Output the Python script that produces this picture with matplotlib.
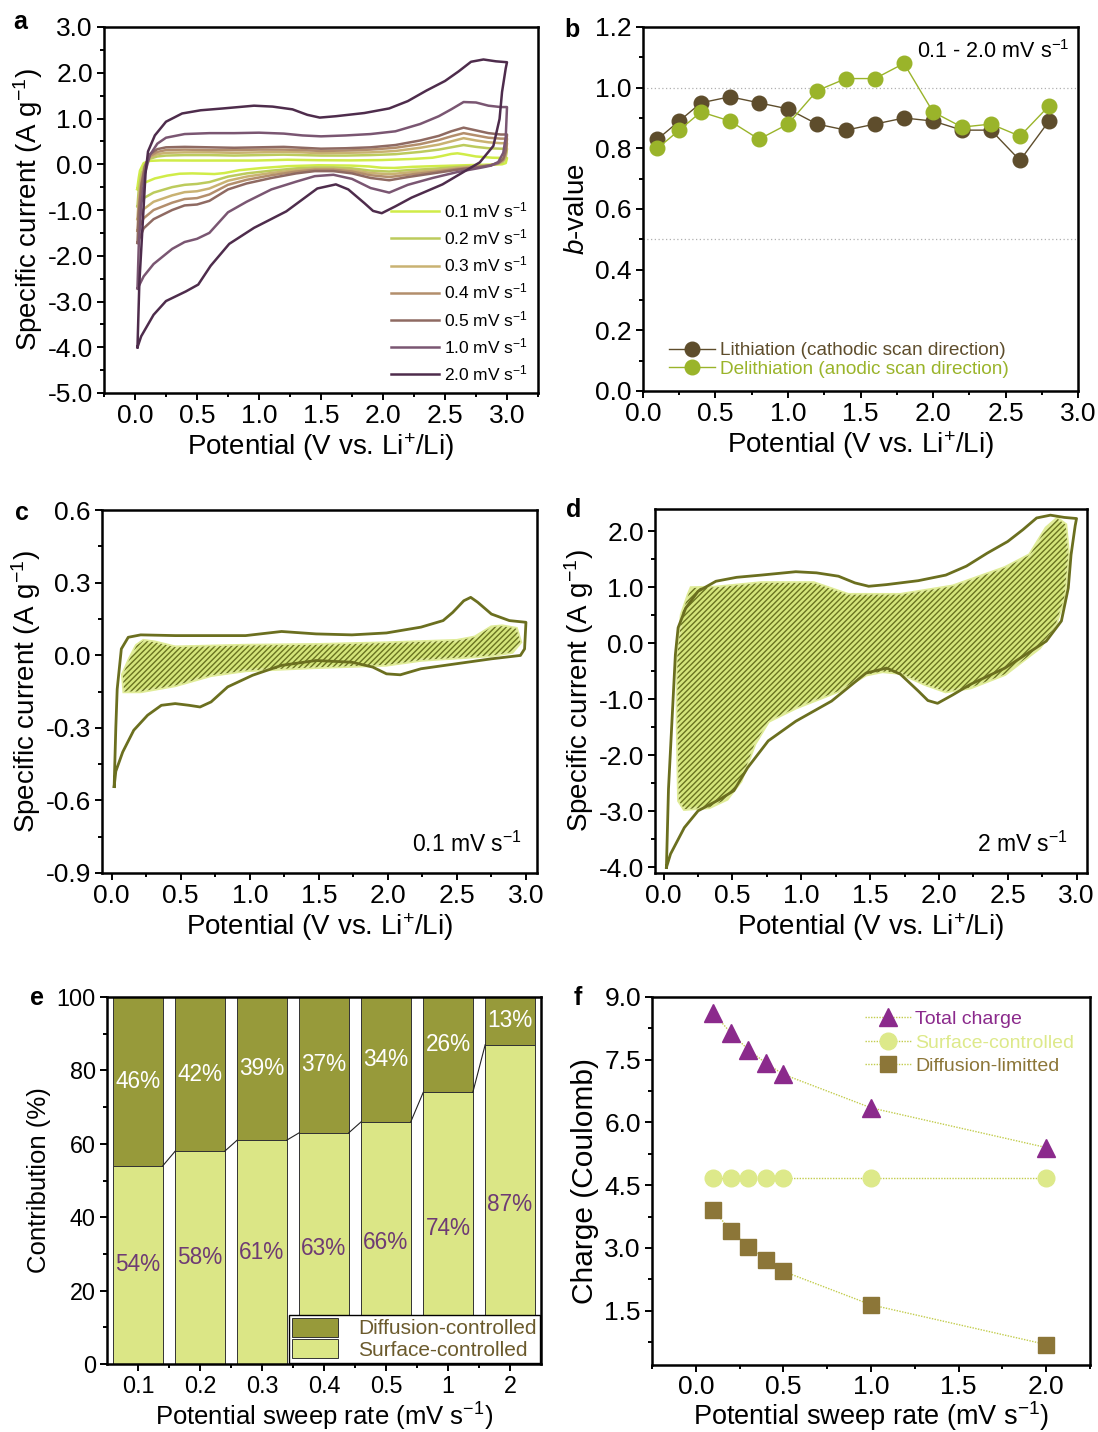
import matplotlib
matplotlib.use('Agg')
import matplotlib.pyplot as plt
from matplotlib.ticker import MultipleLocator, FixedLocator, FormatStrFormatter
from matplotlib.patches import Patch
import numpy as np

plt.rcParams['font.family'] = ['Liberation Sans', 'DejaVu Sans']
plt.rcParams['mathtext.fontset'] = 'custom'
plt.rcParams['mathtext.rm'] = 'Liberation Sans'
plt.rcParams['mathtext.it'] = 'Liberation Sans:italic'
plt.rcParams['mathtext.bf'] = 'Liberation Sans:bold'
plt.rcParams['hatch.linewidth'] = 1.0
plt.rcParams['axes.unicode_minus'] = False

# ---------------- data ----------------
# Panel a / c / d : cyclic voltammograms (potential V, current A/g)
RATES_A = ['0.1', '0.2', '0.3', '0.4', '0.5', '1.0', '2.0']
COLORS_A = ['#d0ec48', '#bccb5c', '#c9b272', '#b38e6c', '#8f6a62', '#7a5672', '#4e2c4c']

# 0.1 mV/s curve (also panel c)
C_UP_X = [0.018, 0.03, 0.04, 0.07, 0.12, 0.21, 0.46, 0.97, 1.23, 1.48, 1.74, 1.99, 2.24, 2.40, 2.47,
          2.55, 2.60, 2.65, 2.75, 2.88, 3.0]
C_UP_Y = [-0.543, -0.30, -0.14, 0.026, 0.074, 0.084, 0.081, 0.081, 0.098, 0.088, 0.084, 0.092, 0.116,
          0.143, 0.177, 0.225, 0.239, 0.219, 0.170, 0.143, 0.136]
C_LO_X = [3.0, 2.99, 2.96, 2.75, 2.50, 2.24, 2.09, 1.99, 1.89, 1.74, 1.48, 1.23, 1.02, 0.84, 0.72, 0.64,
          0.56, 0.46, 0.36, 0.26, 0.16, 0.08, 0.03, 0.018]
C_LO_Y = [0.136, 0.026, -0.001, -0.015, -0.035, -0.056, -0.081, -0.077, -0.049, -0.029, -0.022, -0.042,
          -0.083, -0.131, -0.193, -0.214, -0.207, -0.200, -0.207, -0.248, -0.310, -0.400, -0.480, -0.543]
C_FILL_X = [0.23, 0.31, 0.46, 0.97, 1.48, 1.99, 2.50, 2.63, 2.75, 2.83, 2.93, 2.96, 2.90, 2.75, 2.24,
            1.99, 1.48, 0.97, 0.72, 0.46, 0.21, 0.09, 0.08, 0.13, 0.18]
C_FILL_Y = [0.060, 0.054, 0.033, 0.040, 0.043, 0.050, 0.060, 0.074, 0.116, 0.120, 0.110, 0.054, 0.013,
            -0.001, -0.020, -0.040, -0.050, -0.063, -0.083, -0.125, -0.150, -0.150, -0.080, -0.015, 0.040]

# 2.0 mV/s curve (also panel d)
D_UP_X = [0.02, 0.035, 0.06, 0.085, 0.105, 0.16, 0.25, 0.38, 0.53, 0.71, 0.96, 1.11, 1.27, 1.39, 1.49,
          1.62, 1.85, 2.05, 2.20, 2.35, 2.50, 2.61, 2.71, 2.81, 2.91, 3.0]
D_UP_Y = [-4.0, -2.6, -1.4, -0.2, 0.28, 0.63, 0.93, 1.11, 1.18, 1.22, 1.28, 1.26, 1.20, 1.08, 1.02,
          1.05, 1.12, 1.22, 1.38, 1.61, 1.82, 2.03, 2.24, 2.29, 2.25, 2.23]
D_LO_X = [3.0, 2.99, 2.96, 2.94, 2.89, 2.78, 2.63, 2.48, 2.23, 2.10, 1.99, 1.92, 1.85, 1.72, 1.62, 1.47,
          1.34, 1.22, 0.96, 0.76, 0.61, 0.51, 0.41, 0.25, 0.15, 0.05, 0.02]
D_LO_Y = [2.23, 2.10, 1.58, 0.99, 0.40, 0.04, -0.20, -0.44, -0.73, -0.92, -1.07, -1.02, -0.85, -0.55,
          -0.44, -0.53, -0.79, -1.03, -1.39, -1.74, -2.22, -2.63, -2.78, -2.99, -3.29, -3.76, -4.0]
D_FILL_X = [0.20, 0.38, 0.71, 1.09, 1.34, 1.72, 2.10, 2.48, 2.66, 2.78, 2.86, 2.92, 2.94, 2.91, 2.84,
            2.73, 2.48, 2.23, 2.05, 1.90, 1.72, 1.59, 1.47, 1.27, 0.96, 0.76, 0.66, 0.56, 0.46, 0.33,
            0.15, 0.11, 0.10, 0.10, 0.13, 0.18]
D_FILL_Y = [0.99, 1.00, 1.08, 1.08, 0.87, 0.87, 1.02, 1.35, 1.58, 2.06, 2.23, 2.12, 1.58, 0.81, 0.28,
            -0.08, -0.55, -0.79, -0.86, -0.73, -0.53, -0.50, -0.56, -0.85, -1.15, -1.39, -1.80, -2.46,
            -2.78, -2.93, -2.96, -2.81, -1.39, -0.20, 0.51, 0.87]

# intermediate rates (0.2, 0.3, 0.4, 0.5, 1.0 mV/s) on shared potential grids
UP_X = [0.02, 0.03, 0.05, 0.08, 0.12, 0.18, 0.25, 0.4, 0.6, 0.8, 1.0, 1.2, 1.35, 1.5, 1.7, 1.9, 2.1,
        2.3, 2.45, 2.55, 2.65, 2.75, 2.85, 2.95, 3.0]
LO_X = [3.0, 2.99, 2.97, 2.93, 2.87, 2.8, 2.6, 2.4, 2.2, 2.05, 1.9, 1.75, 1.6, 1.45, 1.3, 1.1, 0.9,
        0.75, 0.6, 0.5, 0.4, 0.3, 0.15, 0.07, 0.02]
UP_02 = [-0.92, -0.55, -0.22, 0.0, 0.12, 0.17, 0.19, 0.2, 0.2, 0.19, 0.2, 0.21, 0.2, 0.19, 0.19, 0.2,
         0.22, 0.27, 0.32, 0.37, 0.42, 0.38, 0.35, 0.34, 0.34]
LO_02 = [0.34, 0.15, 0.06, 0.01, -0.02, -0.03, -0.06, -0.1, -0.13, -0.16, -0.14, -0.09, -0.07, -0.07,
         -0.09, -0.14, -0.2, -0.27, -0.39, -0.43, -0.45, -0.5, -0.62, -0.74, -0.92]
UP_03 = [-1.2, -0.75, -0.33, -0.03, 0.15, 0.22, 0.25, 0.26, 0.26, 0.25, 0.26, 0.27, 0.26, 0.24, 0.25,
         0.26, 0.29, 0.36, 0.43, 0.5, 0.57, 0.52, 0.48, 0.46, 0.46]
LO_03 = [0.46, 0.2, 0.08, 0.02, -0.02, -0.04, -0.08, -0.14, -0.18, -0.22, -0.19, -0.13, -0.1, -0.1,
         -0.13, -0.19, -0.27, -0.36, -0.53, -0.59, -0.61, -0.68, -0.82, -0.98, -1.2]
UP_04 = [-1.45, -0.95, -0.42, -0.05, 0.18, 0.27, 0.31, 0.32, 0.31, 0.31, 0.32, 0.32, 0.31, 0.29, 0.3,
         0.32, 0.36, 0.44, 0.53, 0.61, 0.68, 0.63, 0.58, 0.56, 0.56]
LO_04 = [0.56, 0.25, 0.1, 0.02, -0.02, -0.05, -0.1, -0.17, -0.23, -0.28, -0.24, -0.16, -0.12, -0.12,
         -0.16, -0.24, -0.34, -0.45, -0.66, -0.74, -0.76, -0.84, -1.0, -1.18, -1.45]
UP_05 = [-1.72, -1.1, -0.5, -0.05, 0.22, 0.33, 0.37, 0.38, 0.37, 0.36, 0.37, 0.38, 0.36, 0.34, 0.35,
         0.37, 0.42, 0.52, 0.62, 0.72, 0.8, 0.74, 0.68, 0.65, 0.65]
LO_05 = [0.65, 0.3, 0.12, 0.03, -0.02, -0.05, -0.12, -0.2, -0.28, -0.35, -0.3, -0.2, -0.15, -0.15,
         -0.2, -0.3, -0.42, -0.55, -0.8, -0.88, -0.9, -1.0, -1.2, -1.4, -1.72]
UP_10 = [-2.7, -1.8, -0.9, -0.2, 0.2, 0.45, 0.58, 0.66, 0.68, 0.68, 0.69, 0.67, 0.63, 0.61, 0.63, 0.66,
         0.72, 0.88, 1.05, 1.2, 1.36, 1.35, 1.28, 1.25, 1.25]
LO_10 = [1.25, 0.6, 0.25, 0.05, -0.03, -0.07, -0.17, -0.3, -0.45, -0.62, -0.52, -0.32, -0.23, -0.26,
         -0.38, -0.55, -0.82, -1.05, -1.5, -1.63, -1.7, -1.85, -2.18, -2.45, -2.72]

# Panel b : b-values
B_X = [0.1, 0.25, 0.4, 0.6, 0.8, 1.0, 1.2, 1.4, 1.6, 1.8, 2.0, 2.2, 2.4, 2.6, 2.8]
B_LITH = [0.83, 0.89, 0.95, 0.97, 0.95, 0.93, 0.88, 0.86, 0.88, 0.90, 0.89, 0.86, 0.86, 0.76, 0.89]
B_DELITH = [0.80, 0.86, 0.92, 0.89, 0.83, 0.88, 0.99, 1.03, 1.03, 1.08, 0.92, 0.87, 0.88, 0.84, 0.94]

# Panel e : contributions (%)
E_CATS = ['0.1', '0.2', '0.3', '0.4', '0.5', '1', '2']
E_SURF = [54, 58, 61, 63, 66, 74, 87]
E_DIFF = [46, 42, 39, 37, 34, 26, 13]

# Panel f : charge (C)
F_X = [0.1, 0.2, 0.3, 0.4, 0.5, 1.0, 2.0]
F_TOTAL = [8.62, 8.14, 7.74, 7.42, 7.15, 6.35, 5.40]
F_SURF = [4.68, 4.68, 4.68, 4.68, 4.68, 4.68, 4.68]
F_DIFF = [3.91, 3.41, 3.03, 2.71, 2.44, 1.64, 0.69]

# ---------------- figure ----------------
W, H = 1098, 1432
fig = plt.figure(figsize=(W / 100, H / 100), dpi=100)


def ax_px(l, t, r, b):
    return fig.add_axes([l / W, 1 - b / H, (r - l) / W, (b - t) / H])


def style(ax, size=19):
    for s in ax.spines.values():
        s.set_linewidth(1.8)
    ax.tick_params(which='both', direction='out', top=False, right=False, width=1.4,
                   labelsize=size, pad=3)
    ax.tick_params(which='major', length=5)
    ax.tick_params(which='minor', length=3)


def fmt1(ax):
    ax.xaxis.set_major_formatter(FormatStrFormatter('%.1f'))
    ax.yaxis.set_major_formatter(FormatStrFormatter('%.1f'))


LBL = 20
XLAB = 'Potential (V vs. Li$^{+}$/Li)'
YLAB = 'Specific current (A g$^{-1}$)'

# ---- a ----
axa = ax_px(104, 27, 538, 393)
curves = [
    (np.r_[C_UP_X, C_LO_X], np.r_[C_UP_Y, C_LO_Y]),
    (np.r_[UP_X, LO_X], np.r_[UP_02, LO_02]),
    (np.r_[UP_X, LO_X], np.r_[UP_03, LO_03]),
    (np.r_[UP_X, LO_X], np.r_[UP_04, LO_04]),
    (np.r_[UP_X, LO_X], np.r_[UP_05, LO_05]),
    (np.r_[UP_X, LO_X], np.r_[UP_10, LO_10]),
    (np.r_[D_UP_X, D_LO_X], np.r_[D_UP_Y, D_LO_Y]),
]
for (x, y), col, r in zip(curves, COLORS_A, RATES_A):
    axa.plot(x, y, color=col, lw=1.8, label=f'{r} mV s$^{{-1}}$', solid_joinstyle='round')
axa.set_xlim(-0.25, 3.25)
axa.set_ylim(-5.0, 3.0)
axa.xaxis.set_major_locator(FixedLocator([0, 0.5, 1, 1.5, 2, 2.5, 3]))
axa.xaxis.set_minor_locator(FixedLocator(np.arange(-0.25, 3.3, 0.25)))
axa.yaxis.set_major_locator(MultipleLocator(1.0))
axa.yaxis.set_minor_locator(MultipleLocator(0.5))
fmt1(axa)
style(axa)
axa.set_xlabel(XLAB, fontsize=LBL, labelpad=2)
axa.set_ylabel(YLAB, fontsize=LBL, labelpad=2)
axa.legend(loc='lower right', frameon=False, fontsize=12.5, handlelength=2.8, handletextpad=0.3,
           labelspacing=0.42, borderaxespad=0.15)

# ---- b ----
axb = ax_px(643, 27, 1078, 391)
LITH_COL = '#5e4d2c'
DELITH_COL = '#9ab42a'
axb.axhline(1.0, color='#b0b0b0', ls=(0, (1, 2)), lw=0.9, zorder=0)
axb.axhline(0.5, color='#b0b0b0', ls=(0, (1, 2)), lw=0.9, zorder=0)
axb.plot(B_X, B_LITH, '-o', color=LITH_COL, ms=10.5, lw=1.0,
         label='Lithiation (cathodic scan direction)')
axb.plot(B_X, B_DELITH, '-o', color=DELITH_COL, ms=10.5, lw=1.0,
         label='Delithiation (anodic scan direction)')
axb.set_xlim(0, 3.0)
axb.set_ylim(0, 1.2)
axb.xaxis.set_major_locator(MultipleLocator(0.5))
axb.xaxis.set_minor_locator(MultipleLocator(0.25))
axb.yaxis.set_major_locator(MultipleLocator(0.2))
axb.yaxis.set_minor_locator(MultipleLocator(0.1))
fmt1(axb)
style(axb)
axb.set_xlabel(XLAB, fontsize=LBL, labelpad=2)
axb.set_ylabel('$\\it{b}$-value', fontsize=LBL, labelpad=4)
axb.legend(loc='lower left', frameon=False, fontsize=13.7, handlelength=2.4, handletextpad=0.25,
           labelspacing=0.05, borderaxespad=0.3, labelcolor='linecolor', bbox_to_anchor=(0.03, 0.0))
axb.text(0.98, 0.965, '0.1 - 2.0 mV s$^{-1}$', transform=axb.transAxes, ha='right', va='top',
         fontsize=15.5)

# ---- c / d ----
CV_COL = '#6b6f1f'
FILL_COL = '#d4e57a'
HALO_COL = '#e0ec98'
HATCH_COL = '#6a7420'


def cv_panel(ax, ux, uy, lx, ly, fx, fy):
    ax.fill(fx, fy, facecolor=FILL_COL, edgecolor=HALO_COL, lw=2.5, zorder=1)
    ax.fill(fx, fy, facecolor='none', edgecolor=HATCH_COL, hatch='//////', lw=0, zorder=2)
    ax.plot(np.r_[ux, lx], np.r_[uy, ly], color=CV_COL, lw=2.0, zorder=3, solid_joinstyle='round')


axc = ax_px(102, 510, 537, 873)
cv_panel(axc, C_UP_X, C_UP_Y, C_LO_X, C_LO_Y, C_FILL_X, C_FILL_Y)
axc.set_xlim(-0.07, 3.08)
axc.set_ylim(-0.9, 0.6)
axc.xaxis.set_major_locator(MultipleLocator(0.5))
axc.xaxis.set_minor_locator(MultipleLocator(0.25))
axc.yaxis.set_major_locator(MultipleLocator(0.3))
axc.yaxis.set_minor_locator(MultipleLocator(0.15))
fmt1(axc)
style(axc)
axc.set_xlabel(XLAB, fontsize=LBL, labelpad=2)
axc.set_ylabel(YLAB, fontsize=LBL, labelpad=2)
axc.text(0.965, 0.045, '0.1 mV s$^{-1}$', transform=axc.transAxes, ha='right', va='bottom',
         fontsize=16.5)

axd = ax_px(655, 509, 1087, 873)
cv_panel(axd, D_UP_X, D_UP_Y, D_LO_X, D_LO_Y, D_FILL_X, D_FILL_Y)
axd.set_xlim(-0.063, 3.076)
axd.set_ylim(-4.1, 2.4)
axd.xaxis.set_major_locator(MultipleLocator(0.5))
axd.xaxis.set_minor_locator(MultipleLocator(0.25))
axd.yaxis.set_major_locator(MultipleLocator(1.0))
axd.yaxis.set_minor_locator(MultipleLocator(0.5))
fmt1(axd)
style(axd)
axd.set_xlabel(XLAB, fontsize=LBL, labelpad=2)
axd.set_ylabel(YLAB, fontsize=LBL, labelpad=2)
axd.text(0.955, 0.045, '2 mV s$^{-1}$', transform=axd.transAxes, ha='right', va='bottom',
         fontsize=16.5)

# ---- e ----
axe = ax_px(107, 997, 541, 1364)
SURF_BAR = '#dbe686'
DIFF_BAR = '#979a3a'
pos = np.arange(len(E_CATS))
wbar = 0.8
axe.bar(pos, E_SURF, width=wbar, color=SURF_BAR, edgecolor='#333333', lw=0.7, zorder=2)
axe.bar(pos, E_DIFF, bottom=E_SURF, width=wbar, color=DIFF_BAR, edgecolor='#333333', lw=0.7, zorder=2)
for i in range(len(pos) - 1):
    axe.plot([pos[i] + wbar / 2, pos[i + 1] - wbar / 2], [E_SURF[i], E_SURF[i + 1]],
             color='#222222', lw=0.8, zorder=3)
for i in range(len(pos)):
    axe.text(pos[i], E_SURF[i] / 2, f'{E_SURF[i]}%', ha='center', va='center', fontsize=16.3,
             color='#6e3b74', zorder=4)
    axe.text(pos[i], E_SURF[i] + E_DIFF[i] / 2, f'{E_DIFF[i]}%', ha='center', va='center',
             fontsize=16.3, color='white', zorder=4)
axe.set_xlim(-0.5, 6.5)
axe.set_ylim(0, 100)
axe.set_xticks(pos)
axe.set_xticklabels(E_CATS)
axe.xaxis.set_minor_locator(FixedLocator(pos[:-1] + 0.5))
axe.yaxis.set_major_locator(MultipleLocator(20))
axe.yaxis.set_minor_locator(MultipleLocator(10))
style(axe, size=16.8)
axe.set_xlabel('Potential sweep rate (mV s$^{-1}$)', fontsize=18.5, labelpad=2)
axe.set_ylabel('Contribution (%)', fontsize=18.5, labelpad=4)
leg_e = axe.legend(handles=[Patch(facecolor=DIFF_BAR, edgecolor='#333333', lw=0.7),
                            Patch(facecolor=SURF_BAR, edgecolor='#333333', lw=0.7)],
                   labels=['Diffusion-controlled', 'Surface-controlled'], loc='lower right',
                   fontsize=15, handlelength=2.2, handleheight=1.0, labelspacing=0.05,
                   handletextpad=1.0, borderpad=0.15, borderaxespad=0.05, fancybox=False,
                   framealpha=1, edgecolor='black', labelcolor='#6b5a2c')
leg_e.get_frame().set_linewidth(1.0)
leg_e.set_zorder(5)

# ---- f ----
axf = ax_px(652, 997, 1090, 1365)
TOT_COL = '#8b2a8c'
FSURF_COL = '#dde98a'
FDIFF_COL = '#8c7638'
LINE_COL = '#c2cc4c'
axf.plot(F_X, F_TOTAL, ls=(0, (1, 1)), color=LINE_COL, lw=1.0, marker='^', ms=13,
         mfc=TOT_COL, mec=TOT_COL, label='Total charge')
axf.plot(F_X, F_SURF, ls=(0, (1, 1)), color=LINE_COL, lw=1.0, marker='o', ms=12,
         mfc=FSURF_COL, mec=FSURF_COL, label='Surface-controlled')
axf.plot(F_X, F_DIFF, ls=(0, (1, 1)), color=LINE_COL, lw=1.0, marker='s', ms=11,
         mfc=FDIFF_COL, mec=FDIFF_COL, label='Diffusion-limitted')
axf.set_xlim(-0.25, 2.25)
axf.set_ylim(0.2, 9.0)
axf.xaxis.set_major_locator(MultipleLocator(0.5))
axf.xaxis.set_minor_locator(MultipleLocator(0.25))
axf.yaxis.set_major_locator(FixedLocator([1.5, 3.0, 4.5, 6.0, 7.5, 9.0]))
axf.yaxis.set_minor_locator(FixedLocator([0.75, 2.25, 3.75, 5.25, 6.75, 8.25]))
fmt1(axf)
style(axf)
axf.tick_params(axis='x', pad=2)
axf.set_xlabel('Potential sweep rate (mV s$^{-1}$)', fontsize=19.5, labelpad=0)
axf.set_ylabel('Charge (Coulomb)', fontsize=21.5, labelpad=4)
axf.legend(loc='upper right', frameon=False, fontsize=14, handlelength=2.4, handletextpad=0.2,
           labelspacing=0.3, borderaxespad=0.3, labelcolor='markerfacecolor',
           bbox_to_anchor=(0.995, 1.0))

# ---- panel letters ----
for lab, x, y in [('a', 20, 22), ('b', 572, 30), ('c', 22, 513), ('d', 574, 510),
                  ('e', 37, 998), ('f', 578, 998)]:
    fig.text(x / W, 1 - y / H, lab, fontsize=18, fontweight='bold', ha='center', va='center')

fig.savefig('out.png', dpi=100)
